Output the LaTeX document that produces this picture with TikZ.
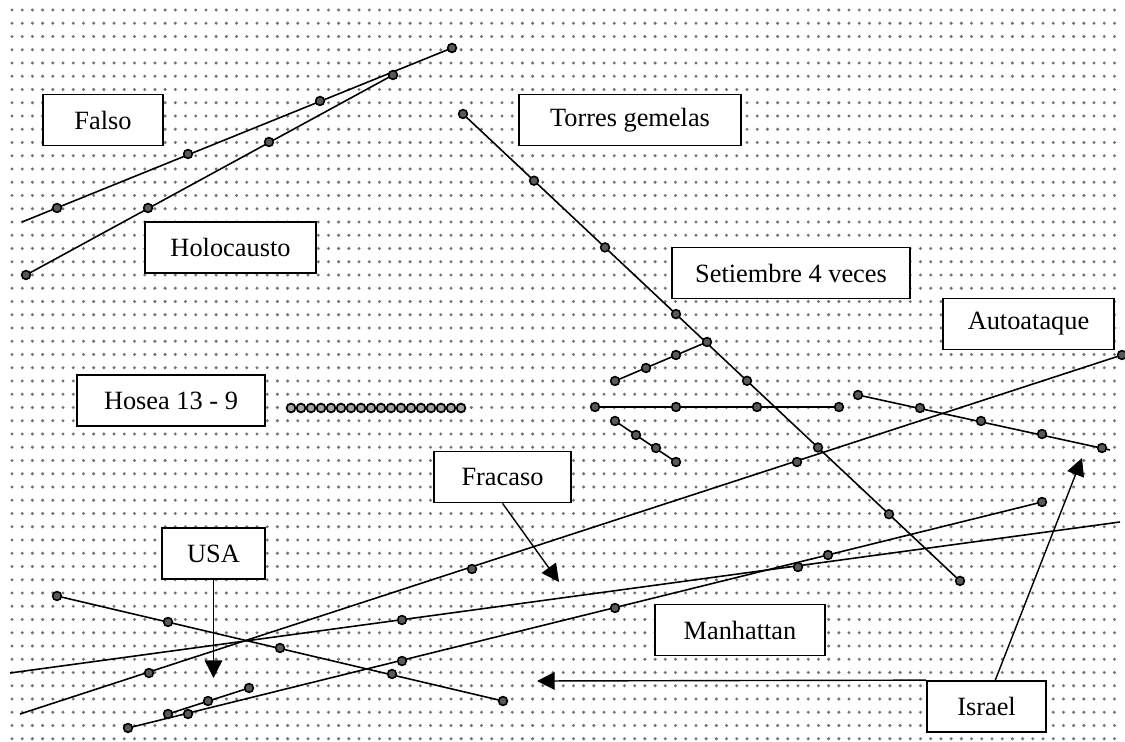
\documentclass[tikz,border=0pt]{standalone}
\usepackage{fontspec}
\setmainfont{Liberation Serif}
\usetikzlibrary{arrows.meta}

\begin{document}
\begin{tikzpicture}[x=0.02cm, y=-0.02cm,
    caja/.style={draw, fill=white, line width=1pt, minimum height=1.02cm, inner sep=0pt, font=\fontsize{15}{17}\selectfont},
    linea/.style={line width=0.9pt},
    punto/.style={draw=black, fill=black!65, line width=0.9pt},
    anillo/.style={draw=black, fill=black!35, line width=1pt},
    flecha/.style={line width=0.8pt, -{Triangle[length=10pt,width=10pt]}},
    rejilla/.style={black!55, line width=1.9pt, line cap=round, dash pattern=on 0pt off 5.81pt}]
    % Fondo punteado
    \path[use as bounding box, fill=white] (0,0) rectangle (1125,742);
    \foreach \r in {0,...,55}
        \draw[rejilla] (12,10+13.25*\r) -- (1122,10+13.25*\r);
    % Extremos de las rectas
    \coordinate (a1) at (22,222);   \coordinate (a2) at (452,48);
    \coordinate (b1) at (26,275);   \coordinate (b2) at (393,75);
    \coordinate (c1) at (463,114);  \coordinate (c2) at (960,581);
    \coordinate (d1) at (615,381);  \coordinate (d2) at (707,342);
    \coordinate (e1) at (595,407);  \coordinate (e2) at (839,407);
    \coordinate (f1) at (615,421);  \coordinate (f2) at (676,462);
    \coordinate (g1) at (858,395);  \coordinate (g2) at (1110,450);
    \coordinate (h1) at (20,714);   \coordinate (h2) at (1122,355);
    \coordinate (i1) at (57,596);   \coordinate (i2) at (503,701);
    \coordinate (j1) at (10,673);   \coordinate (j2) at (1120,522);
    \coordinate (k1) at (128,728);  \coordinate (k2) at (1042,502);
    \coordinate (l1) at (168,714);  \coordinate (l2) at (249,688);
    % Rectas
    \foreach \r in {a,b,c,d,e,f,g,h,i,j,k,l}
        \draw[linea] (\r1) -- (\r2);
    % Puntos sobre las rectas
    \foreach \x/\y in {57/208, 188/154, 320/101, 452/48,
                       26/275, 148/208, 269/142, 393/75,
                       615/381, 646/368, 676/355, 707/342,
                       595/407, 676/407, 757/407, 839/407,
                       615/421, 636/435, 656/448, 676/462,
                       858/395, 920/408, 981/421, 1042/434, 1102/448,
                       149/673, 472/569, 797/462, 1122/355,
                       57/596, 168/622, 280/648, 392/674, 503/701,
                       402/620, 798/567,
                       128/728, 188/714, 402/661, 615/608, 828/555, 1042/502,
                       168/714, 208/701, 249/688}
        \filldraw[punto] (\x,\y) circle (2.5pt);
    \foreach \i in {0,...,7}
        \filldraw[punto] (463+71*\i,114+66.7*\i) circle (2.5pt);
    % Cadena de Hosea
    \foreach \i in {0,...,17}
        \filldraw[anillo] (291+10*\i,408) circle (2.5pt);
    % Cajas
    \node[caja, minimum width=2.4cm]  (falso)      at (103,120)   {Falso};
    \node[caja, minimum width=3.42cm] (holocausto) at (230.5,247.5) {Holocausto};
    \node[caja, minimum width=4.44cm] (torres)     at (630,120)   {Torres gemelas};
    \node[caja, minimum width=4.76cm] (setiembre)  at (791,273)   {Setiembre 4 veces};
    \node[caja, minimum width=3.42cm] (autoataque) at (1028.5,324) {Autoataque};
    \node[caja, minimum width=3.76cm] (hosea)      at (171,400.5) {Hosea 13 - 9};
    \node[caja, minimum width=2.06cm] (usa)        at (213.5,553.5) {USA};
    \node[caja, minimum width=2.74cm] (fracaso)    at (502.5,477) {Fracaso};
    \node[caja, minimum width=3.4cm]  (manhattan)  at (740,630)   {Manhattan};
    \node[caja, minimum width=2.38cm] (israel)     at (986.5,706.5) {Israel};
    % Flechas
    \coordinate (usa-fin) at (213.5,678);
    \coordinate (fracaso-fin) at (559,582);
    \coordinate (israel-izq) at (537,681);
    \coordinate (israel-arr) at (1082,458);
    \draw[flecha] (usa) -- (usa-fin);
    \draw[flecha] (fracaso.south) -- (fracaso-fin);
    \draw[flecha] (israel.north west) -- (israel-izq);
    \draw[flecha] ([xshift=5pt]israel.north) -- (israel-arr);
\end{tikzpicture}
\end{document}
